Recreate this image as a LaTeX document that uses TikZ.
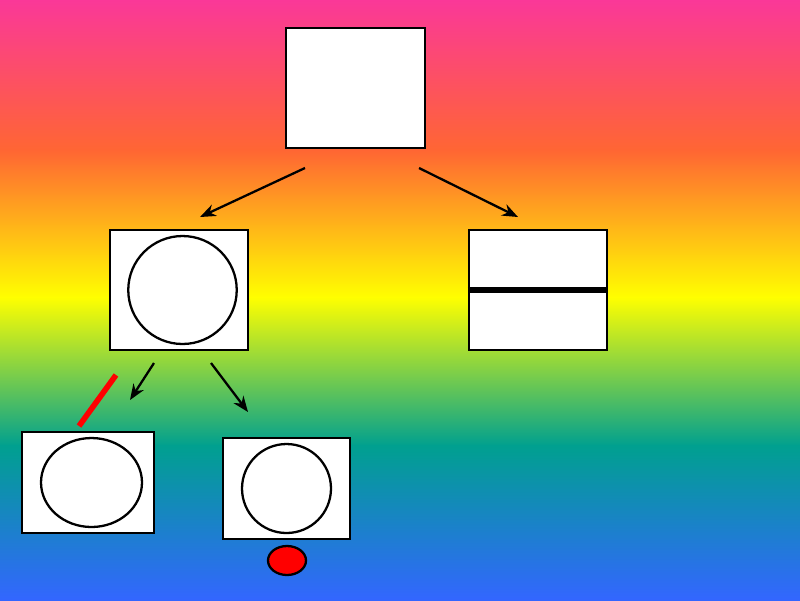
\documentclass[tikz,border=0pt]{standalone}
\usetikzlibrary{arrows.meta,positioning,calc,shapes.geometric}
\definecolor{bgpink}{HTML}{FA3898}
\definecolor{bgorange}{HTML}{FF6633}
\definecolor{bgyellow}{HTML}{FFFF00}
\definecolor{bgteal}{HTML}{00A08F}
\definecolor{bgblue}{HTML}{3366FF}
\definecolor{cutred}{HTML}{FF0000}
\begin{document}
\begin{tikzpicture}[x=0.02cm,y=-0.02cm,
      bx/.style={rectangle,draw=black,fill=white,line width=1.3pt,inner sep=0pt},
      rnd/.style={ellipse,draw=black,fill=white,line width=1.3pt,inner sep=0pt},
      arr/.style={-{Stealth[length=9pt,width=7pt]},line width=1.3pt}]
    % rainbow backdrop
    \useasboundingbox (0,0) rectangle (800,600);
    \shade[top color=bgpink,bottom color=bgorange] (0,0) rectangle (800,151);
    \shade[top color=bgorange,bottom color=bgyellow] (0,150) rectangle (800,298);
    \shade[top color=bgyellow,bottom color=bgteal] (0,297) rectangle (800,446);
    \shade[top color=bgteal,bottom color=bgblue] (0,445) rectangle (800,600);
    % boxes
    \node[bx,minimum width=2.78cm,minimum height=2.4cm] (top) at (355.5,88) {};
    \node[bx,minimum width=2.76cm,minimum height=2.4cm] (midL) at (179,290) {};
    \node[bx,minimum width=2.76cm,minimum height=2.4cm] (midR) at (538,290) {};
    \node[bx,minimum width=2.64cm,minimum height=2.02cm] (botL) at (88,482.5) {};
    \node[bx,minimum width=2.54cm,minimum height=2.02cm] (botM) at (286.5,488.5) {};
    % contents
    \node[rnd,minimum width=2.17cm,minimum height=2.16cm] (ringL) at (182.5,290) {};
    \draw[line width=3pt] (midR.west) -- (midR.east);
    \node[rnd,minimum width=2.02cm,minimum height=1.78cm] (ringBL) at (91.5,482.5) {};
    \node[rnd,minimum width=1.78cm,minimum height=1.78cm] (ringBM) at (286.5,488.5) {};
    \node[rnd,fill=cutred,minimum width=0.76cm,minimum height=0.58cm] (dot) at (287,560.5) {};
    % arrows
    \coordinate (A1) at (305,168); \coordinate (A2) at (200,217);
    \coordinate (A3) at (419,168); \coordinate (A4) at (518,217);
    \coordinate (A5) at (154,363); \coordinate (A6) at (130,400);
    \coordinate (A7) at (211,363); \coordinate (A8) at (248,412);
    \draw[arr] (A1) -- (A2);
    \draw[arr] (A3) -- (A4);
    \draw[arr] (A5) -- (A6);
    \draw[arr] (A7) -- (A8);
    % red cut
    \coordinate (C1) at (116,375); \coordinate (C2) at (79,426);
    \draw[cutred,line width=3.2pt] (C1) -- (C2);
\end{tikzpicture}
\end{document}
